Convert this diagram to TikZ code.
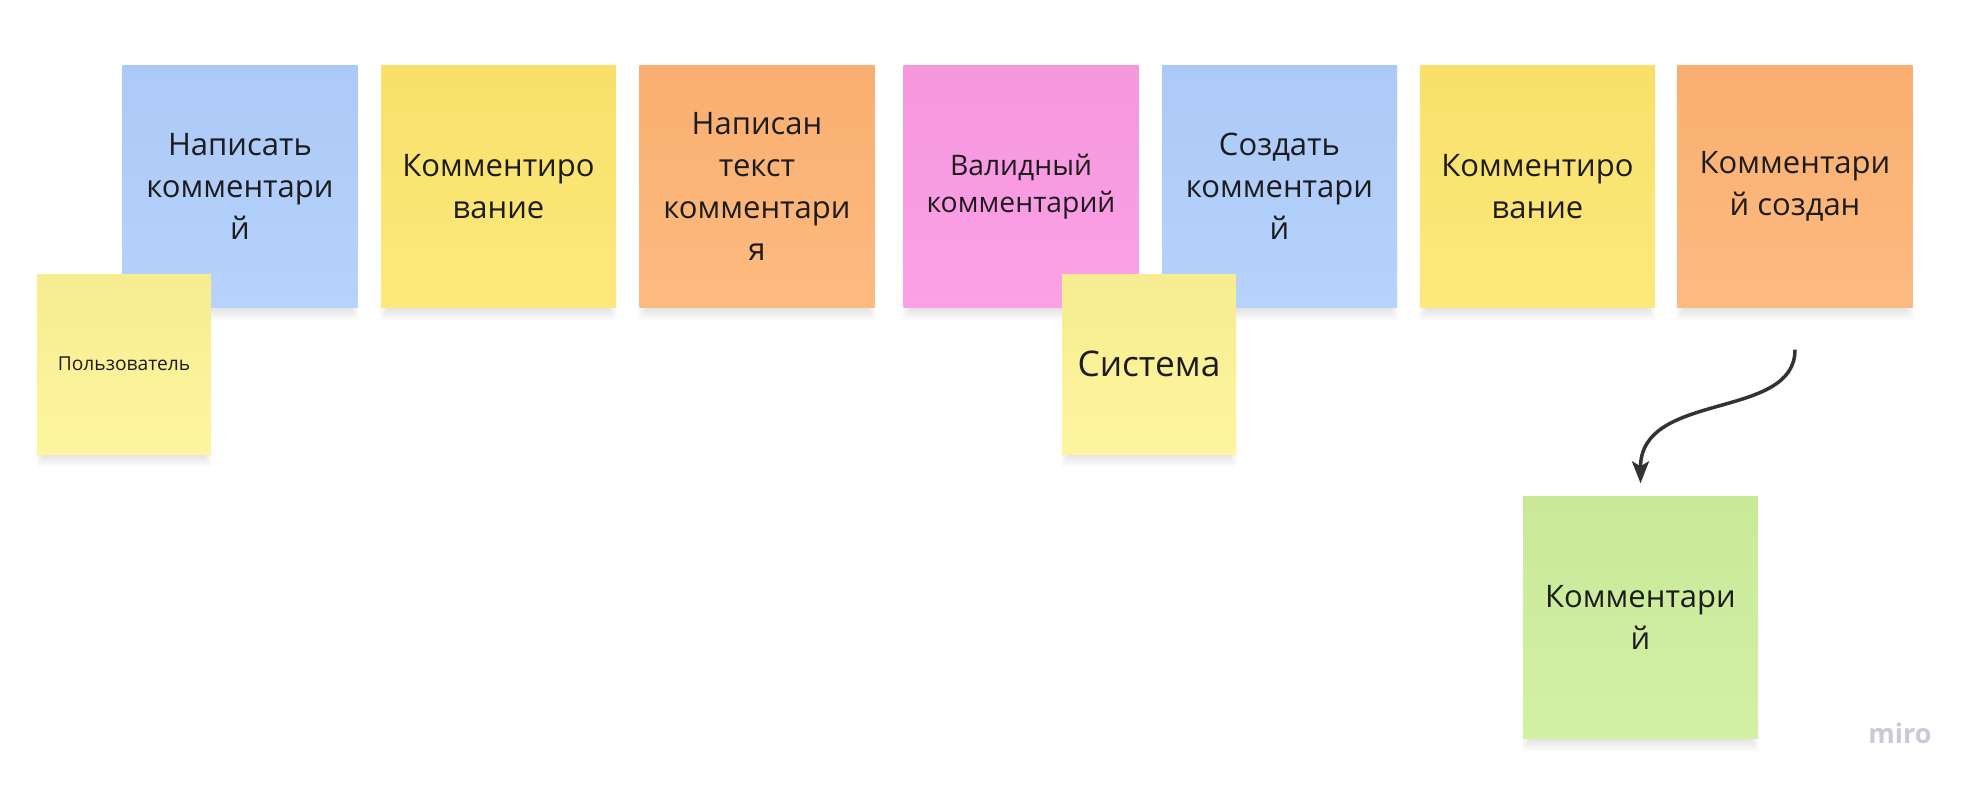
\documentclass[tikz,border=0pt]{standalone}
\usepackage{fontspec}
\setmainfont{Open Sans}
\usetikzlibrary{arrows.meta,backgrounds}
\definecolor{txt}{HTML}{1C1C1C}
\definecolor{blueT}{HTML}{ADC9F7}\definecolor{blueB}{HTML}{B5D3FD}
\definecolor{yelT}{HTML}{F8E06A}\definecolor{yelB}{HTML}{FDE97B}
\definecolor{oraT}{HTML}{F9AF70}\definecolor{oraB}{HTML}{FDBA80}
\definecolor{pinT}{HTML}{F697DE}\definecolor{pinB}{HTML}{FCA0E8}
\definecolor{palT}{HTML}{F6EC91}\definecolor{palB}{HTML}{FEF69E}
\definecolor{greT}{HTML}{C9E898}\definecolor{greB}{HTML}{D4F1A3}
\definecolor{arrowc}{HTML}{333333}
\definecolor{logoc}{HTML}{CBC9D8}
\newcommand{\cardshade}[1]{%
  \foreach \k in {0,...,8}{%
    \fill[black, opacity=0.013]
      ([xshift=7pt-\k pt, yshift=20pt]#1.south west) rectangle
      ([xshift=\k pt-7pt, yshift=-1.3*\k pt-2pt]#1.south east);
  }}
\begin{document}
\begin{tikzpicture}[x=1pt,y=-1pt,
  card/.style={rectangle, inner sep=0pt, minimum width=235pt, minimum height=242pt,
    align=center, text=txt, font=\fontsize{31}{42}\selectfont},
  small/.style={card, minimum width=174pt, minimum height=180pt},
  bluecard/.style={card, top color=blueT, bottom color=blueB},
  yelcard/.style={card, top color=yelT, bottom color=yelB},
  oracard/.style={card, top color=oraT, bottom color=oraB},
  pincard/.style={card, top color=pinT, bottom color=pinB},
  palcard/.style={small, top color=palT, bottom color=palB},
  grecard/.style={card, top color=greT, bottom color=greB},
  flow/.style={draw=arrowc, line width=3.5pt, -{Stealth[length=22pt, width=17pt, inset=5pt]}},
  logo/.style={text=logoc, font=\fontsize{27}{27}\selectfont\bfseries}
]
\useasboundingbox (0,0) rectangle (1978,789);

\node[bluecard] (c1) at (240,186.5) {Написать\\комментари\\й};
\node[yelcard] (c2) at (498.5,186.5) {Комментиро\\вание};
\node[oracard] (c3) at (757,186.5) {Написан\\текст\\комментари\\я};
\node[pincard, font=\fontsize{28.3}{37}\selectfont] (c4) at (1021,186.5) {Валидный\\комментарий};
\node[bluecard] (c5) at (1279.5,186.5) {Создать\\комментари\\й};
\node[yelcard] (c6) at (1537.5,186.5) {Комментиро\\вание};
\node[oracard] (c7) at (1795,186.5) {Комментари\\й создан};

\node[palcard, font=\fontsize{19.2}{24}\selectfont] (u) at (124,364) {Пользователь};
\node[palcard, font=\fontsize{35.3}{40}\selectfont] (s) at (1149,364) {Система};

\node[grecard] (g) at (1640.5,617.5) {Комментари\\й};

\begin{scope}[on background layer]
  \fill[white] (0,0) rectangle (1978,789);
  \foreach \n in {c1,c2,c3,c4,c5,c6,c7,u,s,g}{\cardshade{\n}}
\end{scope}

\coordinate (as) at ([yshift=-42pt]c7.south);
\coordinate (ae) at ([yshift=13pt]g.north);
\draw[flow] (as) .. controls ([yshift=-71pt]as) and ([yshift=93pt]ae) .. (ae);

\node[logo] (m) at (1900,733) {miro};
\end{tikzpicture}
\end{document}
